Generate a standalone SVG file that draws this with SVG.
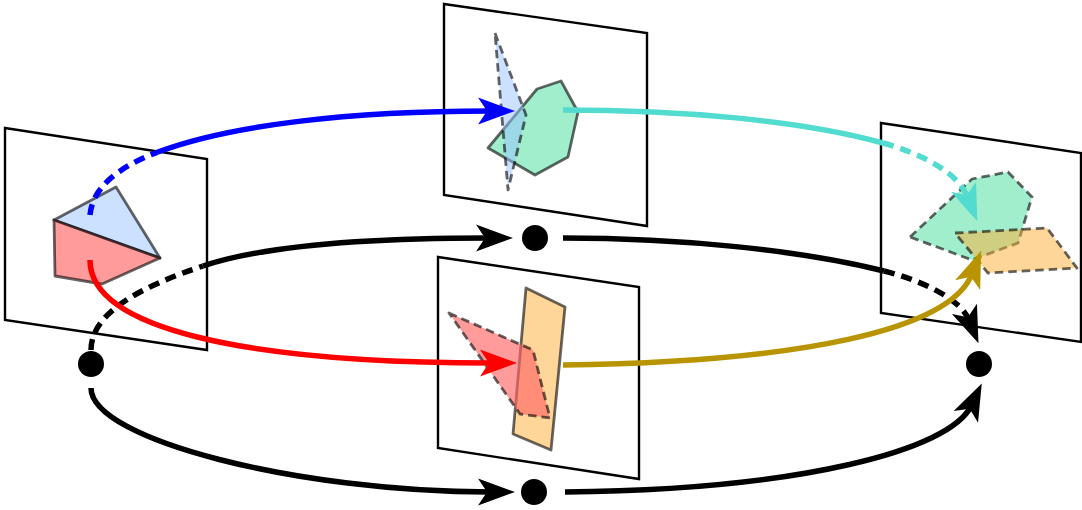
<svg xmlns="http://www.w3.org/2000/svg" width="1082" height="510" viewBox="0 0 1082 510">
<style>
.plane{fill:none;stroke:#000;stroke-width:2.4}
.shp{stroke:#000;stroke-opacity:0.6;stroke-width:2.8;stroke-linejoin:round}
.dsh{stroke-dasharray:8.5 5}
.blue{fill:#99c1ff;fill-opacity:0.5}
.red{fill:#ff6666;fill-opacity:0.65}
.green{fill:#44dd99;fill-opacity:0.5}
.orange{fill:#ffad33;fill-opacity:0.5}
.c{fill:none;stroke-width:5.5}
.d{stroke-dasharray:11 7}
.dot{fill:#000}
</style>
<defs>
<marker id="ak" viewBox="-12 -15 44 30" refX="3" refY="0" markerWidth="44" markerHeight="30" markerUnits="userSpaceOnUse" orient="auto"><path d="M28,0 L-9,-13.5 L0,0 L-9,13.5 Z" fill="#000"/></marker>
<marker id="ab" viewBox="-12 -15 44 30" refX="3" refY="0" markerWidth="44" markerHeight="30" markerUnits="userSpaceOnUse" orient="auto"><path d="M28,0 L-9,-13.5 L0,0 L-9,13.5 Z" fill="#0000ff"/></marker>
<marker id="ar" viewBox="-12 -15 44 30" refX="3" refY="0" markerWidth="44" markerHeight="30" markerUnits="userSpaceOnUse" orient="auto"><path d="M28,0 L-9,-13.5 L0,0 L-9,13.5 Z" fill="#ff0000"/></marker>
<marker id="ag" viewBox="-12 -15 44 30" refX="3" refY="0" markerWidth="44" markerHeight="30" markerUnits="userSpaceOnUse" orient="auto"><path d="M28,0 L-9,-13.5 L0,0 L-9,13.5 Z" fill="#b89500"/></marker>
<marker id="ac" viewBox="-12 -15 44 30" refX="3" refY="0" markerWidth="44" markerHeight="30" markerUnits="userSpaceOnUse" orient="auto"><path d="M28,0 L-9,-13.5 L0,0 L-9,13.5 Z" fill="#52dbcf"/></marker>
</defs>
<g id="plane-left">
<polygon class="plane" points="5,128 207,159 207,350 5,320"/>
<polygon class="shp blue" points="54,220 116,187 160,258"/>
<polygon class="shp red" points="54,220 160,258 102,284 55,276"/>
</g>
<g id="plane-top">
<polygon class="plane" points="444,4 647,33 647,226 444,195"/>
<polygon class="shp green" points="488,148 537,89 561,81 578,112 568,157 535,175"/>
<polygon class="shp dsh blue" points="495,33 526,115 508,190"/>
</g>
<g id="plane-bottom">
<polygon class="plane" points="438,257 639,287 639,479 438,448"/>
<polygon class="shp orange" points="526,288 565,307 551,450 513,434"/>
<polygon class="shp dsh red" points="449,313 533,350 550,418 520,414"/>
</g>
<g id="plane-right">
<polygon class="plane" points="881,123 1081,153 1081,342 881,313"/>
<polygon class="shp dsh green" points="910,237 972,179 1008,172 1032,197 1018,243 972,260"/>
<polygon class="shp dsh orange" points="955,233 1047,228 1077,268 988,273"/>
</g>
<g id="dot-left"><circle class="dot" cx="91" cy="364" r="13"/></g>
<g id="dot-top"><circle class="dot" cx="535" cy="238" r="13"/></g>
<g id="dot-bottom"><circle class="dot" cx="534" cy="492" r="13"/></g>
<g id="dot-right"><circle class="dot" cx="979" cy="364" r="13"/></g>
<g id="connectors">
<path class="c d" stroke="#000" d="M91,350 C91,312 143,286 203,266"/>
<path class="c" stroke="#000" d="M203,266 C260,247 360,238 488,238" marker-end="url(#ak)"/>
<path class="c" stroke="#000" d="M563,238 C680,238 800,250 884,271"/>
<path class="c d" stroke="#000" d="M884,271 C920,280 960,298 969,320" marker-end="url(#ak)"/>
<path class="c" stroke="#000" d="M91,388 C91,440 300,492 490,492" marker-end="url(#ak)"/>
<path class="c" stroke="#000" d="M565,492 C800,490 950,450 971,406" marker-end="url(#ak)"/>
<path class="c d" stroke="#0000ff" d="M90,215 C92,190 115,168 158,152"/>
<path class="c" stroke="#0000ff" d="M158,152 C230,125 350,111 490,111" marker-end="url(#ab)"/>
<path class="c" stroke="#ff0000" d="M90,260 C90,330 250,363 492,363" marker-end="url(#ar)"/>
<path class="c" stroke="#b89500" d="M563,365 C800,362 950,330 972,274" marker-end="url(#ag)"/>
<path class="c" stroke="#52dbcf" d="M563,110 C680,110 800,120 883,143"/>
<path class="c d" stroke="#52dbcf" d="M883,143 C925,155 958,173 968,198" marker-end="url(#ac)"/>
</g>
</svg>
